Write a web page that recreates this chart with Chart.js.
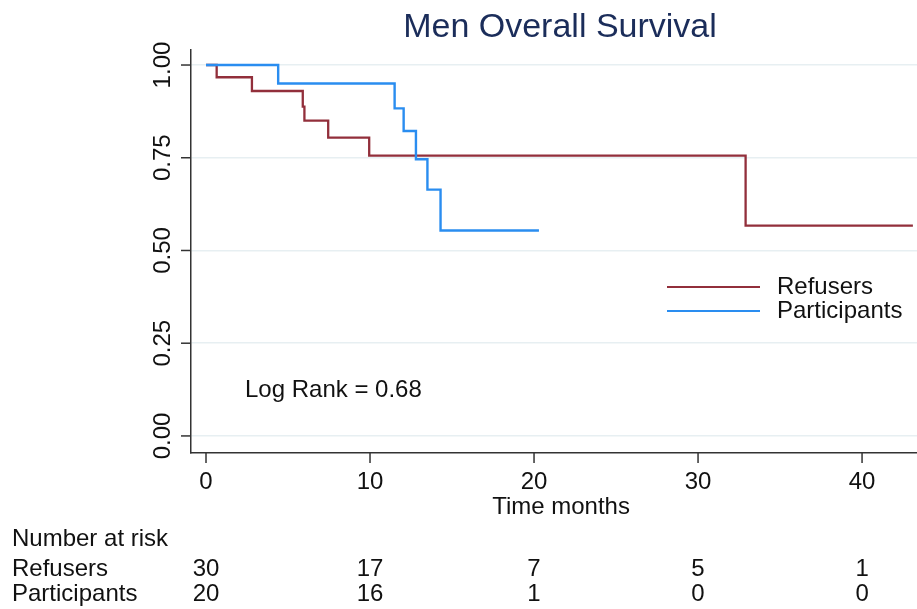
<!DOCTYPE html>
<html>
<head>
<meta charset="utf-8">
<script src="https://cdn.jsdelivr.net/npm/chart.js@4.4.0/dist/chart.umd.min.js"></script>
<style>
  html, body { margin: 0; padding: 0; background: #fff; }
  #wrap { width: 917px; height: 609px; }
</style>
</head>
<body>
<div id="wrap"><canvas id="km" width="917" height="609"></canvas></div>
<script>
// Kaplan-Meier steps
const refusersTime = [0, 0.65, 2.8, 5.9, 6.0, 7.45, 9.95, 32.9, 43.1];
const refusersSurv = [1, 0.967, 0.93, 0.888, 0.85, 0.804, 0.756, 0.567, 0.567];
const participantsTime = [0, 4.4, 11.5, 12.05, 12.8, 13.5, 14.3, 20.3];
const participantsSurv = [1, 0.95, 0.883, 0.822, 0.746, 0.664, 0.554, 0.554];

const xTicks = [0, 10, 20, 30, 40];
const yTicks = [0, 0.25, 0.5, 0.75, 1];
const yTickLabels = ['0.00', '0.25', '0.50', '0.75', '1.00'];

const riskGroups = ['Refusers', 'Participants'];
const riskRefusers = [30, 17, 7, 5, 1];
const riskParticipants = [20, 16, 1, 0, 0];

const RED = '#922f3b';
const BLUE = '#2a8df0';
const FONT = "'Liberation Sans', Arial, sans-serif";

function toPoints(xs, ys) {
    return xs.map((x, i) => ({ x: x, y: ys[i] }));
}

// draws the Stata-like text: ticks, labels, legend, risk table
const extras = {
    id: 'extras',
    afterDraw(chart) {
        const ctx = chart.ctx;
        const xs = chart.scales.x;
        const ys = chart.scales.y;
        const area = chart.chartArea;
        ctx.save();
        ctx.strokeStyle = '#333';
        ctx.lineWidth = 1.5;
        ctx.fillStyle = '#111';

        // y ticks + rotated labels
        ctx.font = '24px ' + FONT;
        ctx.textAlign = 'center';
        ctx.textBaseline = 'middle';
        yTicks.forEach((v, i) => {
            const py = ys.getPixelForValue(v);
            ctx.beginPath();
            ctx.moveTo(area.left - 10, py);
            ctx.lineTo(area.left, py);
            ctx.stroke();
            ctx.save();
            ctx.translate(area.left - 28, py);
            ctx.rotate(-Math.PI / 2);
            ctx.fillText(yTickLabels[i], 0, 0);
            ctx.restore();
        });

        // x ticks + labels
        xTicks.forEach(v => {
            const px = xs.getPixelForValue(v);
            ctx.beginPath();
            ctx.moveTo(px, area.bottom);
            ctx.lineTo(px, area.bottom + 10);
            ctx.stroke();
            ctx.fillText(String(v), px, area.bottom + 29);
        });

        ctx.fillText('Time months', (xs.getPixelForValue(20) + xs.getPixelForValue(30)) / 2 - 55, area.bottom + 54);

        // title
        ctx.fillStyle = '#1b2d5a';
        ctx.font = '34px ' + FONT;
        ctx.fillText('Men Overall Survival', 560, 28);

        // log rank note
        ctx.fillStyle = '#111';
        ctx.font = '24px ' + FONT;
        ctx.textAlign = 'left';
        ctx.fillText('Log Rank = 0.68', 245, 390);

        // legend
        const legendColors = [RED, BLUE];
        riskGroups.forEach((name, i) => {
            const ly = 287 + i * 24;
            ctx.strokeStyle = legendColors[i];
            ctx.lineWidth = 2.2;
            ctx.beginPath();
            ctx.moveTo(667, ly);
            ctx.lineTo(760, ly);
            ctx.stroke();
            ctx.fillText(name, 777, ly);
        });

        // number at risk table
        ctx.fillText('Number at risk', 12, 539);
        const rows = [riskRefusers, riskParticipants];
        rows.forEach((row, r) => {
            const ry = 569 + r * 25;
            ctx.textAlign = 'left';
            ctx.fillText(riskGroups[r], 12, ry);
            ctx.textAlign = 'center';
            row.forEach((n, i) => {
                ctx.fillText(String(n), xs.getPixelForValue(xTicks[i]), ry);
            });
        });
        ctx.restore();
    }
};

new Chart(document.getElementById('km'), {
    type: 'line',
    data: {
        datasets: [
            {
                label: 'Refusers',
                data: toPoints(refusersTime, refusersSurv),
                borderColor: RED,
                borderWidth: 2.3,
                stepped: true,
                pointRadius: 0,
                fill: false,
                order: 1
            },
            {
                label: 'Participants',
                data: toPoints(participantsTime, participantsSurv),
                borderColor: BLUE,
                borderWidth: 2.4,
                stepped: true,
                pointRadius: 0,
                fill: false,
                order: 0
            }
        ]
    },
    options: {
        responsive: false,
        animation: false,
        devicePixelRatio: 1,
        layout: { padding: { left: 191, top: 50, right: 0, bottom: 148 } },
        plugins: {
            legend: { display: false },
            tooltip: { enabled: false }
        },
        scales: {
            x: {
                type: 'linear',
                min: -0.915,
                max: 43.35,
                afterBuildTicks: s => { s.ticks = xTicks.map(v => ({ value: v })); },
                ticks: { display: false },
                grid: { display: false },
                border: { display: true, color: '#333', width: 1.5 }
            },
            y: {
                type: 'linear',
                min: -0.046,
                max: 1.0405,
                afterBuildTicks: s => { s.ticks = yTicks.map(v => ({ value: v })); },
                ticks: { display: false },
                grid: { color: '#e7eff2', lineWidth: 1.5, drawTicks: false },
                border: { display: true, color: '#333', width: 1.5 }
            }
        }
    },
    plugins: [extras]
});
</script>
</body>
</html>
